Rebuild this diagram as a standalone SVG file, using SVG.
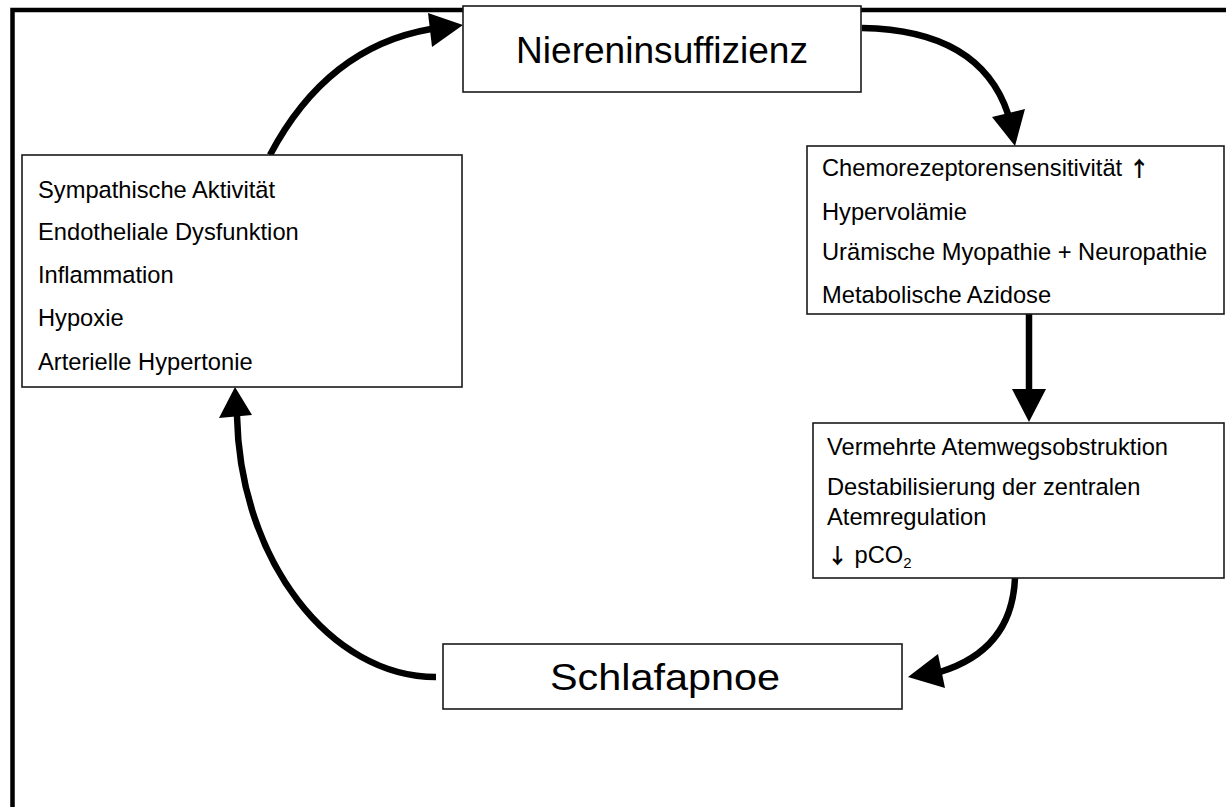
<svg xmlns="http://www.w3.org/2000/svg" width="1226" height="807" viewBox="0 0 1226 807">
<style>
.frame{fill:none;stroke:#000;stroke-width:4.5}
.box{fill:#fff;stroke:#1a1a1a;stroke-width:1.6}
.t{font-family:"Liberation Sans",Arial,sans-serif;font-size:23.7px;fill:#000}
.big{font-family:"Liberation Sans",Arial,sans-serif;font-size:37px;fill:#000}
.arr{font-family:"Noto Sans CJK SC","DejaVu Sans",sans-serif;font-size:21px;font-weight:bold;fill:#000}
.shaft{fill:none;stroke:#000;stroke-width:6.5}
.head{fill:#000}
</style>
<rect width="1226" height="807" fill="#fff"/>
<path class="frame" d="M12.5,820 L12.5,10 L1240,10"/>
<rect x="703" y="11" width="8" height="3" fill="#000"/>
<g id="connectors">
<path class="shaft" d="M270,155 Q327,47 431,29"/>
<polygon class="head" points="463,25 428,13 432,47"/>
<path class="shaft" d="M862,28 Q980,30 1008,114"/>
<polygon class="head" points="1015,146 992,117 1025,109"/>
<path class="shaft" d="M1029,314 L1029,392"/>
<polygon class="head" points="1029,422 1012,389 1046,389"/>
<path class="shaft" d="M1015,578 Q1012,650 940,672"/>
<polygon class="head" points="908,677 938,654 945,688"/>
<path class="shaft" d="M436,677 C330,677 240,560 237,416"/>
<polygon class="head" points="235,387 219,418 252,415"/>
</g>
<g id="niereninsuffizienz">
<rect class="box" x="463" y="6" width="398" height="86"/>
<text class="big" x="662" y="63" text-anchor="middle" textLength="292" lengthAdjust="spacingAndGlyphs">Niereninsuffizienz</text>
</g>
<g id="ursachen">
<rect class="box" x="807" y="146" width="417" height="168"/>
<text class="t" x="822" y="176">Chemorezeptorensensitivität <tspan class="arr">↑</tspan></text>
<text class="t" x="822" y="220">Hypervolämie</text>
<text class="t" x="822" y="260">Urämische Myopathie + Neuropathie</text>
<text class="t" x="822" y="303">Metabolische Azidose</text>
</g>
<g id="atmung">
<rect class="box" x="813" y="423" width="411" height="155"/>
<text class="t" x="827" y="455">Vermehrte Atemwegsobstruktion</text>
<text class="t" x="827" y="495">Destabilisierung der zentralen</text>
<text class="t" x="827" y="525">Atemregulation</text>
<text class="t" x="827" y="563"><tspan class="arr">↓</tspan> pCO<tspan font-size="15" dy="5">2</tspan></text>
</g>
<g id="schlafapnoe">
<rect class="box" x="443" y="644" width="459" height="65"/>
<text class="big" x="665" y="690" text-anchor="middle" textLength="230" lengthAdjust="spacingAndGlyphs">Schlafapnoe</text>
</g>
<g id="folgen">
<rect class="box" x="22" y="155" width="440" height="232"/>
<text class="t" x="38" y="198">Sympathische Aktivität</text>
<text class="t" x="38" y="240">Endotheliale Dysfunktion</text>
<text class="t" x="38" y="283">Inflammation</text>
<text class="t" x="38" y="326">Hypoxie</text>
<text class="t" x="38" y="370">Arterielle Hypertonie</text>
</g>
</svg>
